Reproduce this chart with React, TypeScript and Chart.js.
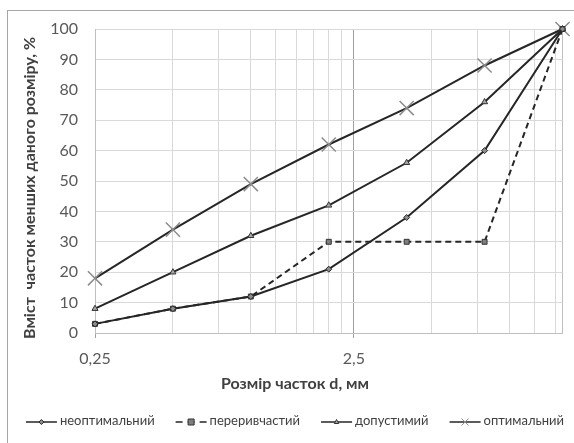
import React, { useEffect, useRef } from 'react';
import { Chart, registerables } from 'chart.js';

Chart.register(...registerables);

// ---- data ----
const sizes = [0.25, 0.5, 1, 2, 4, 8, 16];
const neoptimal = [3, 8, 12, 21, 38, 60, 100];
const broken = [3, 8, 12, 30, 30, 30, 100];
const acceptable = [8, 20, 32, 42, 56, 76, 100];
const optimal = [18, 34, 49, 62, 74, 88, 100];
const seriesLabels = ['неоптимальний', 'переривчастий', 'допустимий', 'оптимальний'];
const xGridValues = [0.25, 0.5, 0.75, 1, 1.25, 1.5, 1.75, 2, 2.25, 2.5, 5, 7.5, 10, 12.5, 15, 16];
const xTickLabels: Record<string, string> = { '0.25': '0,25', '2.5': '2,5' };
const xMin = 0.25;
const xMax = 16;
const yMin = 0;
const yMax = 100;
const yStep = 10;
const xTitle = 'Розмір часток d, мм';
const yTitle = 'Вміст  часток менших даного розміру, %';

const FONT = 'Lato, "Open Sans", sans-serif';
const LINE = '#262626';

function drawMarker(ctx: CanvasRenderingContext2D, style: string, x: number, y: number, r: number, fill: string, stroke: string, lw: number) {
  ctx.save();
  ctx.setLineDash([]);
  ctx.fillStyle = fill;
  ctx.strokeStyle = stroke;
  ctx.lineWidth = lw;
  ctx.beginPath();
  if (style === 'rect') {
    ctx.rect(x - r, y - r, 2 * r, 2 * r);
    ctx.fill();
    ctx.stroke();
  } else if (style === 'rectRot') {
    ctx.moveTo(x, y - r);
    ctx.lineTo(x + r, y);
    ctx.lineTo(x, y + r);
    ctx.lineTo(x - r, y);
    ctx.closePath();
    ctx.fill();
    ctx.stroke();
  } else if (style === 'triangle') {
    ctx.moveTo(x, y - r);
    ctx.lineTo(x + r * 0.9, y + r * 0.6);
    ctx.lineTo(x - r * 0.9, y + r * 0.6);
    ctx.closePath();
    ctx.fill();
    ctx.stroke();
  } else if (style === 'crossRot') {
    ctx.moveTo(x - r * 0.7, y - r * 0.7);
    ctx.lineTo(x + r * 0.7, y + r * 0.7);
    ctx.moveTo(x + r * 0.7, y - r * 0.7);
    ctx.lineTo(x - r * 0.7, y + r * 0.7);
    ctx.stroke();
  }
  ctx.restore();
}

const extrasPlugin = {
  id: 'extras',
  afterDraw(chart: any) {
    const ctx: CanvasRenderingContext2D = chart.ctx;
    const centerX = 295;
    ctx.save();
    // x axis title
    ctx.font = `bold 16px ${FONT}`;
    ctx.fillStyle = '#404040';
    ctx.textAlign = 'center';
    ctx.textBaseline = 'middle';
    ctx.fillText(xTitle, centerX, 384);

    // y axis title
    ctx.save();
    ctx.translate(30, 188);
    ctx.rotate(-Math.PI / 2);
    ctx.fillText(yTitle, 0, 0);
    ctx.restore();

    // legend
    ctx.font = `13px ${FONT}`;
    ctx.textAlign = 'left';
    const sampleW = 31;
    const gapText = 3;
    const gapItem = 21;
    const dsets = chart.data.datasets;
    const widths = dsets.map((d: any) => ctx.measureText(d.label).width);
    const total = widths.reduce((s: number, w: number) => s + sampleW + gapText + w, 0) + gapItem * (dsets.length - 1);
    let x = centerX - total / 2;
    const y = 422;
    dsets.forEach((d: any, i: number) => {
      ctx.save();
      ctx.strokeStyle = d.borderColor;
      ctx.lineWidth = 1.5;
      ctx.setLineDash(d.borderDash ? [7, 5] : []);
      ctx.beginPath();
      ctx.moveTo(x, y);
      ctx.lineTo(x + sampleW, y);
      ctx.stroke();
      ctx.restore();
      const r = d.pointStyle === 'crossRot' ? 5 : d.pointStyle === 'rect' ? 3 : 2.5;
      drawMarker(ctx, d.pointStyle, x + sampleW / 2, y, r, d.pointBackgroundColor, d.pointBorderColor, 1);
      ctx.fillStyle = '#404040';
      ctx.fillText(d.label, x + sampleW + gapText, y - 1);
      x += sampleW + gapText + widths[i] + gapItem;
    });
    ctx.restore();
  },
};

export default function App() {
  const ref = useRef<HTMLCanvasElement | null>(null);

  useEffect(() => {
    if (!ref.current) return;
    const mk = (vals: number[]) => sizes.map((s, i) => ({ x: s, y: vals[i] }));
    const chart = new Chart(ref.current, {
      type: 'line',
      data: {
        datasets: [
          {
            label: seriesLabels[0],
            data: mk(neoptimal),
            borderColor: LINE,
            borderWidth: 2,
            pointStyle: 'rectRot',
            pointRadius: 3,
            pointBackgroundColor: '#8c8c8c',
            pointBorderColor: '#262626',
            pointBorderWidth: 1,
            tension: 0,
            clip: false,
          } as any,
          {
            label: seriesLabels[1],
            data: mk(broken),
            borderColor: LINE,
            borderWidth: 2,
            borderDash: [6, 4],
            pointStyle: 'rect',
            pointRadius: 3.5,
            pointBackgroundColor: '#7f7f7f',
            pointBorderColor: '#333333',
            pointBorderWidth: 1,
            tension: 0,
            clip: false,
          } as any,
          {
            label: seriesLabels[2],
            data: mk(acceptable),
            borderColor: LINE,
            borderWidth: 2,
            pointStyle: 'triangle',
            pointRadius: 3.5,
            pointBackgroundColor: '#a6a6a6',
            pointBorderColor: '#333333',
            pointBorderWidth: 1,
            tension: 0,
            clip: false,
          } as any,
          {
            label: seriesLabels[3],
            data: mk(optimal),
            borderColor: LINE,
            borderWidth: 2,
            pointStyle: 'crossRot',
            pointRadius: 10,
            pointBackgroundColor: '#8c8c8c',
            pointBorderColor: '#8c8c8c',
            pointBorderWidth: 1.5,
            tension: 0,
            clip: false,
          } as any,
        ],
      },
      options: {
        animation: false,
        responsive: false,
        devicePixelRatio: 1,
        layout: { padding: { left: 0, right: 11, top: 29, bottom: 65 } },
        plugins: { legend: { display: false }, tooltip: { enabled: false } },
        scales: {
          x: {
            type: 'logarithmic',
            min: xMin,
            max: xMax,
            afterBuildTicks: (s: any) => {
              s.ticks = xGridValues.map((v) => ({ value: v }));
            },
            afterFit: (s: any) => {
              s.height = 45;
            },
            ticks: {
              autoSkip: false,
              maxRotation: 0,
              minRotation: 0,
              padding: 11,
              color: '#595959',
              font: { family: FONT, size: 16 },
              callback: (v: any) => xTickLabels[String(v)] ?? '',
            },
            grid: {
              color: (c: any) => {
                const v = c.tick?.value;
                if (v === 2.5) return '#a0a0a0';
                if (v === xMax || v === xMin) return '#bfbfbf';
                return '#d9d9d9';
              },
              tickColor: (c: any) => {
                const v = c.tick?.value;
                return v === 2.5 || v === 0.25 ? '#a0a0a0' : 'rgba(0,0,0,0)';
              },
              tickLength: 5,
            },
            border: { color: '#bfbfbf' },
          },
          y: {
            min: yMin,
            max: yMax,
            afterFit: (s: any) => {
              s.width = 95;
            },
            ticks: {
              stepSize: yStep,
              padding: 17,
              color: '#595959',
              font: { family: FONT, size: 16 },
            },
            grid: { color: '#d9d9d9', drawTicks: false },
            border: { color: '#bfbfbf' },
          },
        },
      } as any,
      plugins: [extrasPlugin],
    });
    return () => chart.destroy();
  }, []);

  return (
    <div style={{ position: 'fixed', left: 0, top: 0, width: 574, height: 443, background: '#fff', overflow: 'hidden' }}>
      <div
        style={{
          position: 'absolute',
          left: 7,
          top: 10,
          width: 600,
          height: 500,
          borderTop: '1px solid #a6a6a6',
          borderLeft: '1px solid #a6a6a6',
        }}
      />
      <canvas ref={ref} width={574} height={443} style={{ position: 'absolute', left: 0, top: 0, display: 'block' }} />
    </div>
  );
}
